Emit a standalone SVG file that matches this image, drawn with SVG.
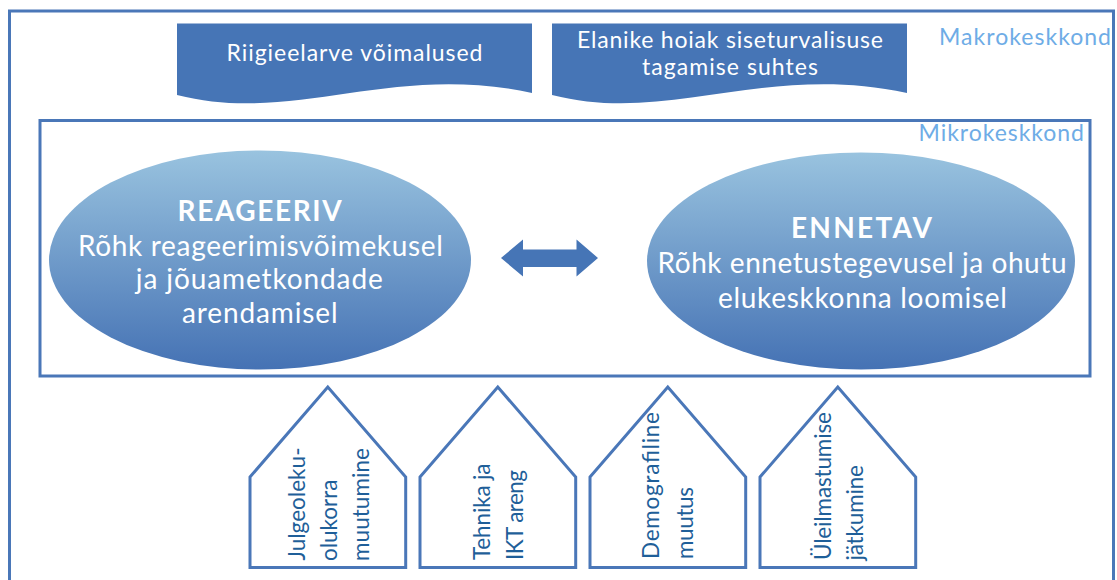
<svg xmlns="http://www.w3.org/2000/svg" width="1117" height="580" viewBox="0 0 1117 580">
  <defs>
    <linearGradient id="ellGrad" x1="0" y1="0" x2="0" y2="1">
      <stop offset="0" stop-color="#99C3DF"/>
      <stop offset="1" stop-color="#4572B4"/>
    </linearGradient>
    <style>
      .frame { fill: none; stroke: #4A77B8; stroke-width: 3; }
      .banner { fill: #4675B6; }
      .btxt { font-family: "Lato", "Liberation Sans", sans-serif; font-size: 23px; fill: #FFFFFF; text-anchor: middle; }
      .etxt { font-family: "Lato", "Liberation Sans", sans-serif; font-size: 28px; fill: #FFFFFF; text-anchor: middle; }
      .etitle { font-weight: bold; }
      .env { font-family: "Lato", "Liberation Sans", sans-serif; font-size: 23px; fill: #6EACE6; text-anchor: end; }
      .house { fill: #FFFFFF; stroke: #4A77B8; stroke-width: 3; stroke-linejoin: miter; }
      .htxt { font-family: "Lato", "Liberation Sans", sans-serif; font-size: 22.5px; fill: #1F5F99; }
      .arrow { fill: #4675B6; }
    </style>
  </defs>
  <rect width="1117" height="580" fill="#FFFFFF"/>

  <g id="makrokeskkond">
    <rect class="frame" x="9.5" y="11" width="1104" height="600"/>
    <text class="env" x="1111" y="45" textLength="172" lengthAdjust="spacing">Makrokeskkond</text>
  </g>

  <g id="banner-riigieelarve">
    <path class="banner" d="M177,23.5 H532 V93 C390,62 294,125 177,95 Z"/>
    <text class="btxt" x="354.5" y="61" textLength="256">Riigieelarve võimalused</text>
  </g>

  <g id="banner-elanike">
    <path class="banner" d="M552,23.5 H907 V93 C765,62 669,125 552,95 Z"/>
    <text class="btxt" x="730" y="47.5" textLength="306">Elanike hoiak siseturvalisuse</text>
    <text class="btxt" x="730" y="75" textLength="176">tagamise suhtes</text>
  </g>

  <g id="mikrokeskkond">
    <rect class="frame" x="40" y="120.5" width="1050" height="255.5"/>
    <text class="env" x="1084" y="140.5" textLength="165.5" lengthAdjust="spacing">Mikrokeskkond</text>
  </g>

  <g id="reageeriv">
    <ellipse cx="260" cy="260" rx="211" ry="109.5" fill="url(#ellGrad)"/>
    <text class="etxt etitle" x="259.6" y="221" textLength="164">REAGEERIV</text>
    <text class="etxt" x="260.4" y="255.5" textLength="365">Rõhk reageerimisvõimekusel</text>
    <text class="etxt" x="259.3" y="289" textLength="247">ja jõuametkondade</text>
    <text class="etxt" x="259.8" y="322.5" textLength="155.5">arendamisel</text>
  </g>

  <g id="ennetav">
    <ellipse cx="861" cy="261" rx="214" ry="108.5" fill="url(#ellGrad)"/>
    <text class="etxt etitle" x="861.5" y="237.5" textLength="141">ENNETAV</text>
    <text class="etxt" x="862" y="273" textLength="409">Rõhk ennetustegevusel ja ohutu</text>
    <text class="etxt" x="862.4" y="308" textLength="289">elukeskkonna loomisel</text>
  </g>

  <g id="connectors">
    <path class="arrow" d="M501,258 L523,239.5 L523,249.5 L576.5,249.5 L576.5,239.5 L598,258 L576.5,276.5 L576.5,267 L523,267 L523,276.5 Z"/>
  </g>

  <g id="house-julgeolek">
    <path class="house" d="M250,477 L327.8,387 L405.7,477 V567.5 H250 Z"/>
    <text class="htxt" transform="translate(304.5,560.5) rotate(-90)" textLength="113">Julgeoleku-</text>
    <text class="htxt" transform="translate(337,561) rotate(-90)" textLength="81.5">olukorra</text>
    <text class="htxt" transform="translate(369,561) rotate(-90)" textLength="113">muutumine</text>
  </g>

  <g id="house-tehnika">
    <path class="house" d="M420,477 L497.8,387 L575.7,477 V567.5 H420 Z"/>
    <text class="htxt" transform="translate(490,560) rotate(-90)" textLength="96.5">Tehnika ja</text>
    <text class="htxt" transform="translate(523,560) rotate(-90)" textLength="90">IKT areng</text>
  </g>

  <g id="house-demograafia">
    <path class="house" d="M590,477 L667.8,387 L745.7,477 V567.5 H590 Z"/>
    <text class="htxt" transform="translate(659,559) rotate(-90)" textLength="147">Demografiline</text>
    <text class="htxt" transform="translate(693,559) rotate(-90)" textLength="72">muutus</text>
  </g>

  <g id="house-uleilmastumine">
    <path class="house" d="M760,477 L837.8,387 L915.7,477 V567.5 H760 Z"/>
    <text class="htxt" transform="translate(831,560) rotate(-90)" textLength="148">Üleilmastumise</text>
    <text class="htxt" transform="translate(863,560.5) rotate(-90)" textLength="95.5">jätkumine</text>
  </g>
</svg>
